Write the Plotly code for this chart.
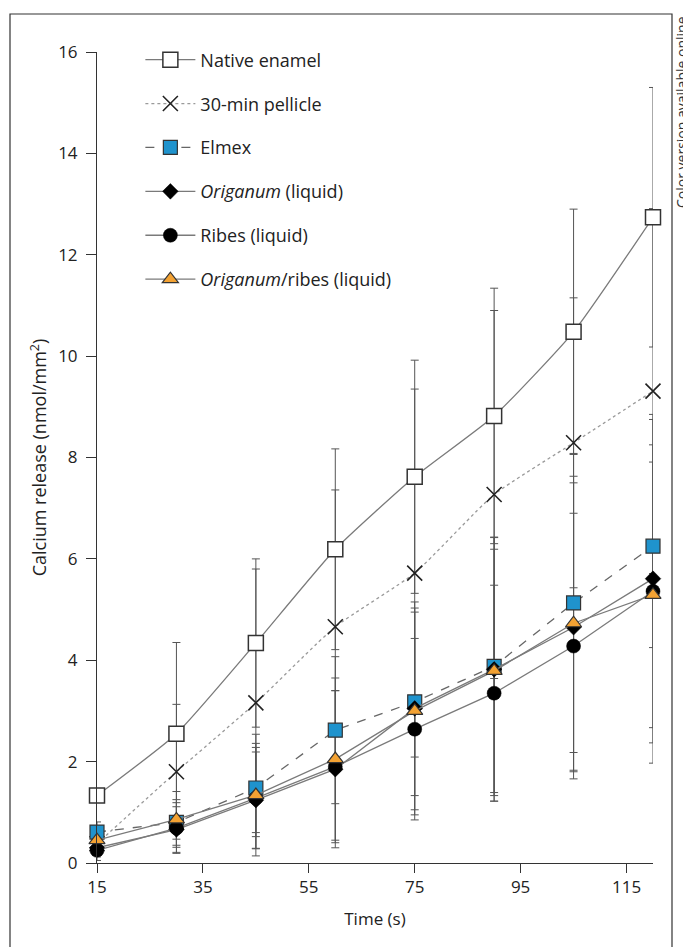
import plotly.graph_objects as go

time = [15, 30, 45, 60, 75, 90, 105, 120]
native = [1.33, 2.55, 4.34, 6.19, 7.62, 8.82, 10.48, 12.74]
native_sd = [0.12, 1.80, 1.66, 1.98, 2.30, 2.52, 2.42, 2.56]
pellicle = [0.38, 1.80, 3.16, 4.66, 5.72, 7.27, 8.29, 9.31]
pellicle_sd = [0.22, 1.33, 2.64, 2.70, 3.63, 3.63, 2.86, 3.60]
elmex = [0.61, 0.80, 1.48, 2.62, 3.18, 3.88, 5.13, 6.25]
elmex_sd = [0.20, 0.45, 0.88, 1.45, 1.85, 2.55, 2.95, 2.00]
origanum = [0.30, 0.66, 1.24, 1.85, 3.05, 3.82, 4.65, 5.61]
origanum_sd = [0.18, 0.45, 0.95, 1.55, 2.10, 2.60, 2.85, 3.24]
ribes = [0.25, 0.69, 1.28, 1.90, 2.64, 3.35, 4.28, 5.36]
ribes_sd = [0.20, 0.50, 1.00, 1.50, 1.79, 2.13, 2.62, 3.39]
origribes = [0.45, 0.86, 1.34, 2.05, 3.00, 3.79, 4.73, 5.29]
origribes_sd = [0.20, 0.55, 1.20, 1.60, 1.95, 2.40, 2.90, 2.62]

names = ["Native enamel", "30-min pellicle", "Elmex", "<i>Origanum</i> (liquid)",
         "Ribes (liquid)", "<i>Origanum</i>/ribes (liquid)"]
x_ticks = [15, 35, 55, 75, 95, 115]
y_ticks = [0, 2, 4, 6, 8, 10, 12, 14, 16]

series = [native, pellicle, elmex, origanum, ribes, origribes]
sds = [native_sd, pellicle_sd, elmex_sd, origanum_sd, ribes_sd, origribes_sd]

styles = [
    dict(line=dict(color="#7a7a7a", width=1.3, shape="spline", smoothing=0.5),
         marker=dict(symbol="square", size=15, color="white", line=dict(color="#333", width=1.5))),
    dict(line=dict(color="#9a9a9a", width=1.3, dash="dot", shape="spline", smoothing=0.5),
         marker=dict(symbol="x-thin", size=15, color="#222", line=dict(color="#222", width=1.6))),
    dict(line=dict(color="#666", width=1.3, dash="dash"),
         marker=dict(symbol="square", size=14, color="#1f93cd", line=dict(color="#333", width=1.2))),
    dict(line=dict(color="#7a7a7a", width=1.3),
         marker=dict(symbol="diamond", size=12, color="black", line=dict(color="black", width=0.5))),
    dict(line=dict(color="#7a7a7a", width=1.3),
         marker=dict(symbol="circle", size=14, color="black", line=dict(color="black", width=0.5))),
    dict(line=dict(color="#7a7a7a", width=1.3),
         marker=dict(symbol="triangle-up", size=14, color="#f3a233", line=dict(color="#333", width=1.2))),
]

fig = go.Figure()

for ys, sd in zip(series, sds):
    fig.add_trace(go.Scatter(
        x=time, y=ys, mode="markers", showlegend=False, hoverinfo="skip",
        marker=dict(size=1, color="rgba(0,0,0,0)"), cliponaxis=False,
        error_y=dict(type="data", array=sd, visible=True, color="#555", thickness=1, width=4),
    ))

for i, (ys, name, st) in enumerate(zip(series, names, styles)):
    fig.add_trace(go.Scatter(
        x=time, y=ys, mode="lines+markers", name=name, legendgroup=f"g{i}",
        line=st["line"], marker=st["marker"], cliponaxis=False,
    ))

# page has an 8px body margin, so the figure is 8px smaller and shifted
fig.add_shape(type="rect", xref="paper", yref="paper",
              x0=(10 - 97) / 556, x1=(672 - 97) / 556,
              y0=(863 - 960) / 811, y1=(863 - 14) / 811,
              line=dict(color="#333", width=1.2), fillcolor="rgba(0,0,0,0)", layer="below")

fig.add_annotation(text="Color version available online", xref="paper", yref="paper",
                   x=(681 - 97) / 556, y=(863 - 112) / 811, xanchor="center", yanchor="middle",
                   textangle=-90, showarrow=False, borderpad=0,
                   font=dict(family="Open Sans", size=14, color="#333"))

fig.update_layout(
    width=683, height=939,
    margin=dict(l=89, r=38, t=44, b=84),
    paper_bgcolor="white", plot_bgcolor="white",
    font=dict(family="Open Sans", size=17, color="#222"),
    legend=dict(x=0.078, y=1.013, xanchor="left", yanchor="top",
                bgcolor="rgba(0,0,0,0)", tracegroupgap=17.5, itemwidth=50,
                font=dict(family="Open Sans", size=18, color="#222")),
    xaxis=dict(range=[15, 120], tickvals=x_ticks, ticks="outside", ticklen=9,
               tickcolor="#333", showline=True, linecolor="#333", linewidth=1,
               showgrid=False, zeroline=False, tickfont=dict(size=17),
               title=dict(text="Time (s)", font=dict(size=17), standoff=15)),
    yaxis=dict(range=[0, 16], tickvals=y_ticks, ticks="outside", ticklen=10,
               tickcolor="#333", showline=True, linecolor="#333", linewidth=1,
               showgrid=False, zeroline=False, tickfont=dict(size=17), ticklabelstandoff=5,
               title=dict(text="Calcium release (nmol/mm<sup>2</sup>)", font=dict(size=18), standoff=6)),
)

fig.write_html("out.html")
